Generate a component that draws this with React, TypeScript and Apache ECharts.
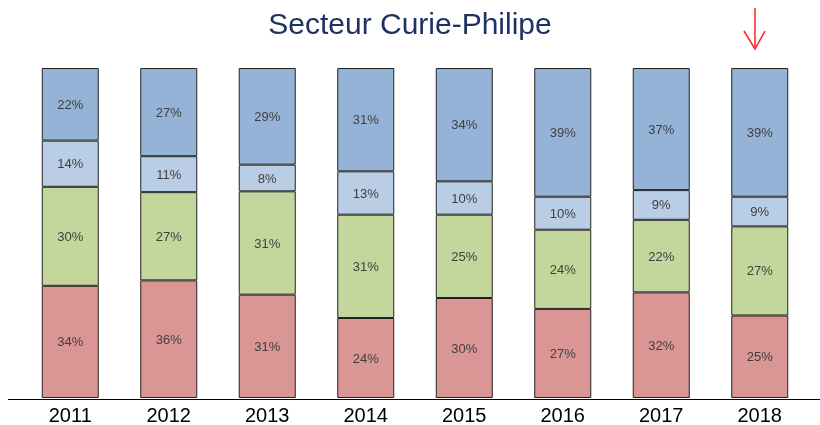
import React, { useEffect, useRef } from "react";
import * as echarts from "echarts";

const years = ["2011", "2012", "2013", "2014", "2015", "2016", "2017", "2018"];
const redVals = [34, 36, 31, 24, 30, 27, 32, 25];
const greenVals = [30, 27, 31, 31, 25, 24, 22, 27];
const lightBlueVals = [14, 11, 8, 13, 10, 10, 9, 9];
const blueVals = [22, 27, 29, 31, 34, 39, 37, 39];
const titleText = "Secteur Curie-Philipe";

const seriesDefs = [
  { name: "s1", values: redVals, color: "#D99694" },
  { name: "s2", values: greenVals, color: "#C3D69B" },
  { name: "s3", values: lightBlueVals, color: "#B9CDE5" },
  { name: "s4", values: blueVals, color: "#95B3D7" },
];

export default function App() {
  const ref = useRef<HTMLDivElement>(null);
  useEffect(() => {
    if (!ref.current) return;
    const chart = echarts.init(ref.current, null, { renderer: "svg" });
    const totals = years.map((_, i) =>
      seriesDefs.reduce((s, d) => s + d.values[i], 0)
    );
    chart.setOption({
      animation: false,
      title: {
        text: titleText,
        left: "center",
        top: 3,
        textStyle: {
          fontFamily: "Liberation Sans, Arial, sans-serif",
          fontSize: 30,
          fontWeight: "normal",
          color: "#1F3262",
        },
      },
      grid: { left: 21, right: 11, top: 68, bottom: 26 },
      xAxis: {
        type: "category",
        data: years,
        axisLine: { show: false },
        axisTick: { show: false },
        axisLabel: {
          fontFamily: "Liberation Sans, Arial, sans-serif",
          fontSize: 20,
          color: "#000",
          margin: 7,
        },
      },
      yAxis: {
        type: "value",
        min: 0,
        max: 100,
        show: false,
        splitLine: { show: false },
      },
      series: seriesDefs.map((d) => ({
        name: d.name,
        type: "bar",
        stack: "total",
        barWidth: 57,
        data: d.values.map((v, i) => (v / totals[i]) * 100),
        itemStyle: { color: d.color, borderColor: "#222", borderWidth: 1 },
        label: {
          show: true,
          position: "inside",
          formatter: (p: any) => `${d.values[p.dataIndex]}%`,
          fontFamily: "Liberation Sans, Arial, sans-serif",
          fontSize: 13,
          color: "#404040",
        },
      })),
      graphic: [
        {
          type: "line",
          shape: { x1: 8, y1: 399.5, x2: 820, y2: 399.5 },
          style: { stroke: "#000", lineWidth: 1 },
          z: 10,
        },
        {
          type: "line",
          shape: { x1: 755, y1: 8, x2: 755, y2: 49 },
          style: { stroke: "#FF2020", lineWidth: 1.5 },
        },
        {
          type: "polyline",
          shape: { points: [[744, 31], [755, 49], [765, 31]] },
          style: { stroke: "#FF2020", lineWidth: 1.5, fill: "none" },
        },
      ],
    });
    return () => chart.dispose();
  }, []);
  return (
    <div
      ref={ref}
      style={{ position: "fixed", left: 0, top: 0, width: 820, height: 425 }}
    />
  );
}
